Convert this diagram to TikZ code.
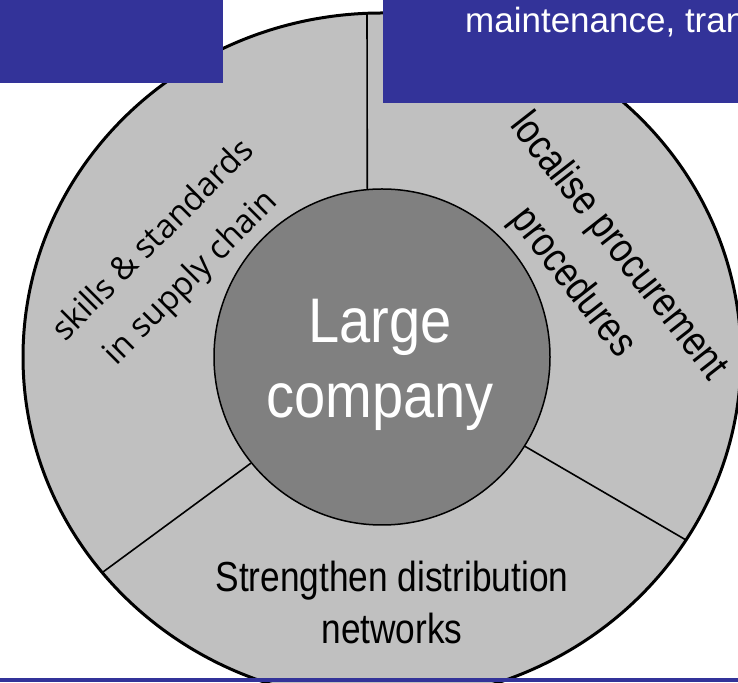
\documentclass[tikz,border=0pt]{standalone}
\usepackage{fontspec}
\setmainfont{Liberation Sans}
\newfontfamily\narrowfont[FakeStretch=0.84]{Liberation Sans}
\newfontfamily\corefont[FakeStretch=0.89]{Liberation Sans}
\newfontfamily\skillfont{Open Sans}
\usepackage{tikz}
\usetikzlibrary{calc}

\begin{document}
\begin{tikzpicture}[x=10pt, y=10pt]

    % Colores de la figura
    \definecolor{bandcolor}{RGB}{51,51,153} % Azul de las bandas
    \definecolor{ringcolor}{RGB}{192,192,192} % Gris claro del anillo
    \definecolor{corecolor}{RGB}{128,128,128} % Gris oscuro del centro

    \tikzset{
        divider/.style={line width=1.6pt, black},
        segtext/.style={font=\narrowfont\fontsize{42}{52}\selectfont, align=center, inner sep=0pt},
        skilltext/.style={font=\skillfont\fontsize{33}{53}\selectfont, align=center, inner sep=0pt},
        coretext/.style={font=\corefont\fontsize{63}{75}\selectfont, align=center, inner sep=0pt, white},
        toptext/.style={font=\fontsize{35}{42}\selectfont, inner sep=0pt, white}
    }

    \useasboundingbox (0,0) rectangle (73.8,68.2);
    \clip (0,0) rectangle (73.8,68.2);

    % --- 1. EL ANILLO ---
    \coordinate (c) at (38.2,32.5);
    \draw[fill=ringcolor, line width=3pt] (c) ellipse (35.9 and 34.4);

    % Centro (empresa grande)
    \node[circle, draw, line width=1.5pt, fill=corecolor, minimum size=336pt, inner sep=0pt] (core) at (c) {};

    % Divisiones entre sectores
    \coordinate (rimTop) at (36.7,66.9);
    \coordinate (rimLeft) at (10.3,11.0);
    \coordinate (rimRight) at (68.6,14.2);
    \draw[divider] (rimTop) -- (core.95.1);
    \draw[divider] (rimLeft) -- (core.219.5);
    \draw[divider] (rimRight) -- (core.328.5);

    % --- 2. TEXTOS ---
    \node[coretext] (title) at (38.0,31.75) {Large\\company};
    \node[segtext] (distrib) at (39.2,8.0) {Strengthen distribution\\networks};
    \node[segtext, font=\narrowfont\fontsize{42}{58}\selectfont, rotate=-52] (procure) at (59.5,41.7) {localise procurement\\procedures};
    \node[skilltext, rotate=45] (skills) at (17.3,42.2) {skills \& standards\\in supply chain};

    % --- 3. BANDAS AZULES ---
    \fill[bandcolor] (0,68.2) rectangle (22.3,59.9);
    \fill[bandcolor] (38.3,68.2) rectangle (73.8,57.9);
    \fill[bandcolor] (0,0.4) rectangle (73.8,0);
    \node[toptext, anchor=base west] (banner) at (46.5,64.9) {maintenance, tran};

\end{tikzpicture}
\end{document}
